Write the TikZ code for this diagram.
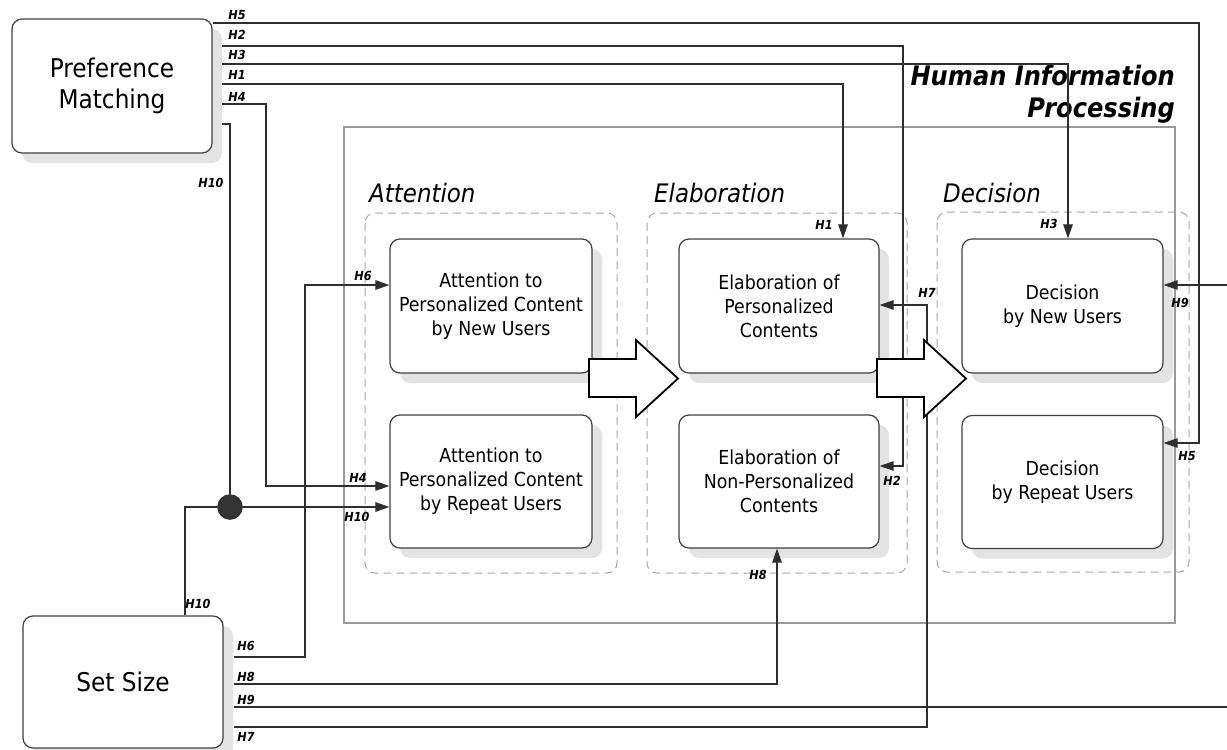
\documentclass[tikz,border=0pt]{standalone}
\usepackage{fontspec}
\setmainfont{DejaVu Sans Condensed}
\usetikzlibrary{arrows.meta,shadows}
\begin{document}
\begin{tikzpicture}[x=1pt,y=-1pt,
  box/.style={draw=black!75, line width=1.2pt, rounded corners=10pt, fill=white, align=center, inner sep=0pt,
    minimum width=201pt, minimum height=134pt, font=\fontsize{19.3}{24}\selectfont,
    general shadow={fill=black!11, shadow xshift=10pt, shadow yshift=-10pt}},
  bigbox/.style={box, minimum width=200pt, minimum height=134pt, font=\fontsize{25.8}{31}\selectfont},
  grp/.style={draw=black!35, line width=1pt, rounded corners=10pt, dash pattern=on 8pt off 5pt},
  conn/.style={draw=black!82, line width=1.1pt},
  arr/.style={conn, -{Triangle[length=14pt,width=9.5pt]}},
  hl/.style={font=\fontsize{12.5}{13}\selectfont\bfseries\itshape, inner sep=0pt},
  ttl/.style={font=\fontsize{25.5}{28}\selectfont\itshape, inner sep=0pt, anchor=west},
  fat/.style={draw=black, line width=1.8pt, fill=white, line join=miter}
]
\useasboundingbox (0,0) rectangle (1227,750);
\clip (0,0) rectangle (1227,750);

% outer frame and groups
\draw[draw=black!40, line width=2pt] (344,127) rectangle (1175,623);
\draw[grp] (365,213) rectangle (617,573);
\draw[grp] (647,213) rectangle (907,573);
\draw[grp] (937,212) rectangle (1189,572);

\node[ttl] (tatt) at (369,193) {Attention};
\node[ttl] (tela) at (654,193) {Elaboration};
\node[ttl] (tdec) at (943,193) {Decision};
\node[font=\fontsize{26.8}{32}\selectfont\bfseries\itshape, align=right, anchor=east, inner sep=0pt] (hip) at (1175,94) {Human Information\\Processing};

% boxes
\node[bigbox] (pm) at (112,86) {Preference\\Matching};
\node[bigbox, minimum height=132pt] (ss) at (123,682) {Set Size};
\node[box, minimum width=202pt] (a1) at (491,306) {Attention to\\Personalized Content\\by New Users};
\node[box, minimum width=202pt, minimum height=133pt] (a2) at (491,481.5) {Attention to\\Personalized Content\\by Repeat Users};
\node[box, minimum width=200pt] (e1) at (779,306) {Elaboration of\\Personalized\\Contents};
\node[box, minimum width=200pt, minimum height=133pt] (e2) at (779,481.5) {Elaboration of\\Non-Personalized\\Contents};
\node[box] (d1) at (1062.5,306) {Decision\\by New Users};
\node[box, minimum height=133pt] (d2) at (1062.5,482) {Decision\\by Repeat Users};

\node[circle, fill=black!80, draw=black!90, minimum size=25pt, inner sep=0pt] (dot) at (230,507) {};

% connectors from Preference Matching
\draw[arr] (pm.north east |- 0,23) -- (1199,23) -- (1199,443) -- (d2.east |- 0,443);
\draw[arr] (222,46) -- (903,46) -- (903,466) -- (e2.east |- 0,466);
\draw[arr] (222,64) -- (1068,64) -- (d1.north -| 1068,0);
\draw[arr] (222,84) -- (843,84) -- (e1.north -| 843,0);
\draw[arr] (222,104) -- (266,104) -- (266,486) -- (a2.west |- 0,486);
\draw[conn] (222,124) -- (230,124) -- (dot);

% connectors from Set Size
\draw[conn] (ss.north -| 185,0) -- (185,507) -- (dot);
\draw[arr] (dot) -- (a2.west |- dot);
\draw[arr] (234,657) -- (305,657) -- (305,285) -- (a1.west |- 0,285);
\draw[arr] (234,684) -- (777,684) -- (e2.south -| 777,0);
\draw[arr] (234,707) -- (1240,707) -- (1240,285) -- (d1.east |- 0,285);
\draw[arr] (234,727) -- (927,727) -- (927,305) -- (e1.east |- 0,305);

% big flow arrows
\draw[fat] (589,359) -- (636,359) -- (636,340) -- (678,378.5) -- (636,417) -- (636,397) -- (589,397) -- cycle;
\draw[fat] (877,359) -- (924,359) -- (924,340) -- (966,378.5) -- (924,417) -- (924,397) -- (877,397) -- cycle;

% labels
\node[hl] (l5a) at (237,15) {H5};
\node[hl] (l2a) at (237,35) {H2};
\node[hl] (l3a) at (237,55) {H3};
\node[hl] (l1a) at (237,75) {H1};
\node[hl] (l4a) at (237,97) {H4};
\node[hl] (l10a) at (211,183) {H10};
\node[hl] (l1b) at (824,225) {H1};
\node[hl] (l3b) at (1049,224) {H3};
\node[hl] (l7b) at (927,293) {H7};
\node[hl] (l9b) at (1180,303) {H9};
\node[hl] (l5b) at (1187,456) {H5};
\node[hl] (l2b) at (892,481) {H2};
\node[hl] (l6b) at (363,276) {H6};
\node[hl] (l4b) at (358,478) {H4};
\node[hl] (l10b) at (357,517) {H10};
\node[hl] (l10c) at (198,604) {H10};
\node[hl] (l6c) at (246,646) {H6};
\node[hl] (l8c) at (246,677) {H8};
\node[hl] (l9c) at (246,700) {H9};
\node[hl] (l7c) at (246,737) {H7};
\node[hl] (l8b) at (758,575) {H8};
\end{tikzpicture}
\end{document}
